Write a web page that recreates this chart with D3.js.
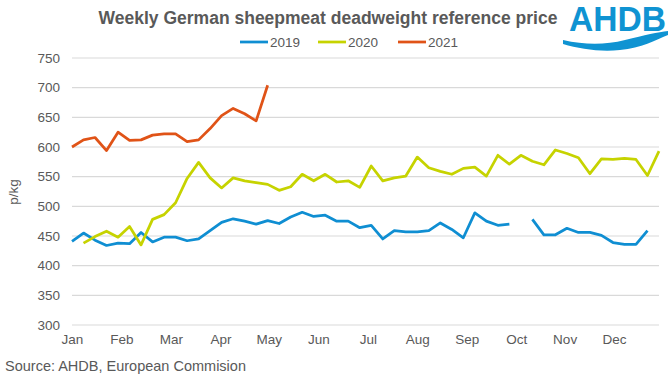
<!DOCTYPE html>
<html>
<head>
<meta charset="utf-8">
<script src="https://cdn.jsdelivr.net/npm/d3@7/dist/d3.min.js"></script>
<style>
  html, body { margin: 0; padding: 0; background: #fff; }
  svg { display: block; font-family: "Liberation Sans", Arial, sans-serif; }
</style>
</head>
<body>
<svg id="chart" width="669" height="378"></svg>
<script>
// ---- data ----
const weeks = d3.range(1, 53);
const values2019 = [441,455,443,434,438,437,456,440,448,448,442,445,459,473,479,475,470,476,471,482,490,483,485,475,475,464,468,445,459,457,457,459,472,461,447,489,475,468,470,null,478,452,452,463,456,456,451,439,436,436,459,null];
const values2020 = [null,438,449,458,448,466,435,478,486,506,547,574,548,531,548,543,540,537,527,533,554,543,554,541,543,532,568,543,548,551,583,565,559,554,564,566,551,586,571,586,576,570,595,589,582,555,580,579,581,579,552,593];
const values2021 = [600,612,616,594,625,611,612,620,622,622,609,612,631,653,665,656,644,704];
const seriesNames = ["2019", "2020", "2021"];
const monthLabels = ["Jan","Feb","Mar","Apr","May","Jun","Jul","Aug","Sep","Oct","Nov","Dec"];
const monthWeeks = [1, 5.3, 9.6, 13.9, 18.1, 22.4, 26.7, 31, 35.3, 39.6, 43.8, 48.1];
const yTicks = [300,350,400,450,500,550,600,650,700,750];
const titleText = "Weekly German sheepmeat deadweight reference price";
const sourceText = "Source: AHDB, European Commision";
const yLabel = "p/kg";

// ---- styles ----
const colors = ["#0F8ED2", "#C6D300", "#E05317"];
const textColor = "#595959";
const gridColor = "#D9D9D9";

const svg = d3.select("#chart");
const x = d3.scaleLinear().domain([1, 52]).range([72, 659]);
const y = d3.scaleLinear().domain([300, 750]).range([325, 58]);

// gridlines
svg.append("g").selectAll("line").data(yTicks).join("line")
  .attr("x1", x(1)).attr("x2", x(52))
  .attr("y1", d => y(d)).attr("y2", d => y(d))
  .attr("stroke", gridColor).attr("stroke-width", 1.2);

// y axis labels
const yAxis = d3.axisLeft(y).tickValues(yTicks).tickSize(0).tickPadding(0);
const gy = svg.append("g").attr("transform", "translate(60,0)").call(yAxis);
gy.select(".domain").remove();
gy.selectAll("text").attr("fill", textColor).style("font-size", "13.5px")
  .style("font-family", "'Liberation Sans', Arial, sans-serif");

// x axis labels
const xAxis = d3.axisBottom(x).tickValues(monthWeeks).tickFormat((d, i) => monthLabels[i]).tickSize(0).tickPadding(0);
const gx = svg.append("g").attr("transform", "translate(0,334)").call(xAxis);
gx.select(".domain").remove();
gx.selectAll("text").attr("fill", textColor).style("font-size", "13.5px")
  .style("font-family", "'Liberation Sans', Arial, sans-serif");

// y title
svg.append("text").attr("transform", "translate(18,192) rotate(-90)")
  .attr("text-anchor", "middle").attr("fill", textColor).style("font-size", "13.5px").text(yLabel);

// lines
const line = d3.line().defined(d => d.v != null).x(d => x(d.w)).y(d => y(d.v));
[values2019, values2020, values2021].forEach((vals, i) => {
  const pts = vals.map((v, j) => ({ w: weeks[j], v: v }));
  svg.append("path").datum(pts)
    .attr("fill", "none").attr("stroke", colors[i]).attr("stroke-width", 2.75)
    .attr("stroke-linejoin", "round").attr("stroke-linecap", "butt")
    .attr("d", line);
});

// title
svg.append("text").attr("x", 328).attr("y", 24).attr("text-anchor", "middle")
  .attr("fill", textColor).style("font-size", "17.5px").style("font-weight", "bold").text(titleText);

// legend
const legendX = [240, 318, 398];
seriesNames.forEach((name, i) => {
  const g = svg.append("g").attr("transform", `translate(${legendX[i]},42)`);
  g.append("line").attr("x1", 0).attr("x2", 28).attr("y1", 0).attr("y2", 0)
    .attr("stroke", colors[i]).attr("stroke-width", 2.75);
  g.append("text").attr("x", 30).attr("y", 5).attr("fill", textColor).style("font-size", "13.5px").text(name);
});

// source
svg.append("text").attr("x", 5).attr("y", 371).attr("fill", textColor).style("font-size", "14.5px").text(sourceText);

// logo
const logoBlue = "#0F93D2";
svg.append("text").attr("x", 569).attr("y", 31).attr("fill", logoBlue)
  .style("font-size", "35px").style("font-weight", "bold")
  .attr("textLength", 97).attr("lengthAdjust", "spacingAndGlyphs").text("AHDB");
svg.append("path").attr("fill", logoBlue)
  .attr("d", "M563,40 C585,45 605,45 625,40 C645,35 658,32 668,31 L668,35 C655,40 642,48 620,50 C600,52 580,49 563,44 Z");
</script>
</body>
</html>
